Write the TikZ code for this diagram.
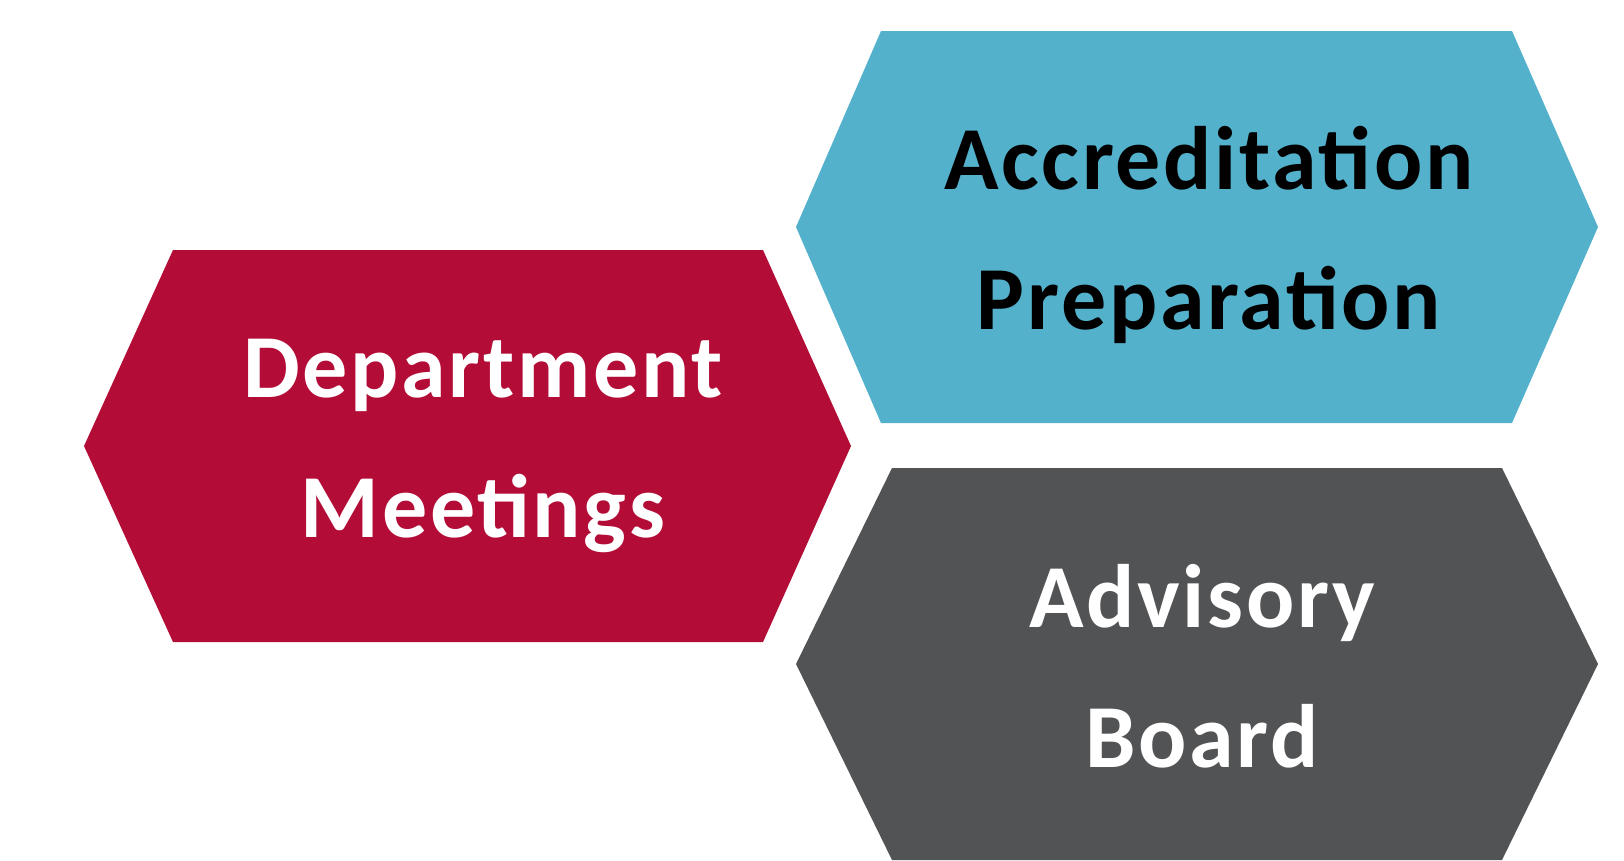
\documentclass[tikz,border=0pt]{standalone}
\usepackage{fontspec}
\setmainfont{Carlito}[LetterSpace=3]
\definecolor{deptred}{RGB}{179,12,55}
\definecolor{accblue}{RGB}{83,177,204}
\definecolor{advgray}{RGB}{82,83,85}
\tikzset{
  hexlabel/.style={align=center, anchor=base, inner sep=0pt,
    font=\fontsize{90}{140}\selectfont\bfseries}
}

\begin{document}
\begin{tikzpicture}[x=1pt, y=-1pt]
        \useasboundingbox (0,0) rectangle (1624,860);
        \fill[deptred] (84,446) -- (173,250) -- (763,250) -- (851,446) -- (763,642) -- (173,642) -- cycle;
        \fill[accblue] (796,227) -- (881,31) -- (1512,31) -- (1598,227) -- (1512,423) -- (881,423) -- cycle;
        \fill[advgray] (796,664) -- (892,468) -- (1502,468) -- (1598,664) -- (1502,860) -- (892,860) -- cycle;
        \node[hexlabel, text=white] (dept) at (483,537) {Department\\Meetings};
        \node[hexlabel, text=black] (accr) at (1209,329) {Accreditation\\Preparation};
        \node[hexlabel, text=white] (adv) at (1202,767) {Advisory\\Board};
    \end{tikzpicture}
\end{document}
